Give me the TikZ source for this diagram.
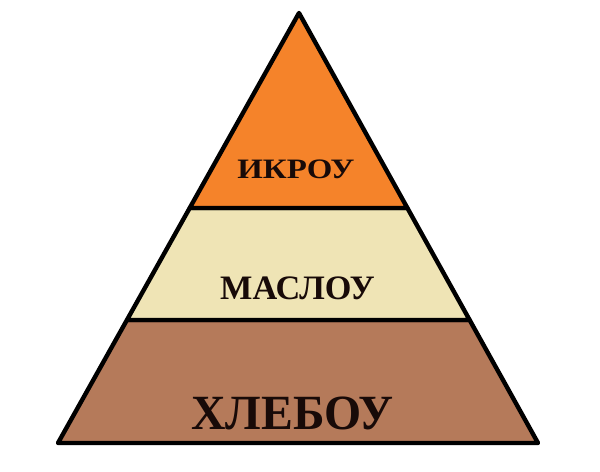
\documentclass[tikz,border=0pt]{standalone}
\usepackage{fontspec}
\setmainfont{Liberation Serif}
\usetikzlibrary{calc}
\definecolor{layerorange}{RGB}{245,131,42}
\definecolor{layerbeige}{RGB}{239,228,181}
\definecolor{layerbrown}{RGB}{181,122,90}
\definecolor{labelink}{RGB}{24,10,8}
\begin{document}
\begin{tikzpicture}[
    layer/.style={draw=black, line width=2.5pt, line join=round},
    label/.style={text=labelink, font=\bfseries, anchor=base, inner sep=0pt}
  ]
  \useasboundingbox (0,0) rectangle (12,9.44);

  \coordinate (apex) at (5.98,9.18);
  \coordinate (bl) at (1.16,0.58);
  \coordinate (br) at (10.76,0.58);
  \coordinate (l1) at ($(apex)!0.4535!(bl)$);
  \coordinate (r1) at ($(apex)!0.4535!(br)$);
  \coordinate (l2) at ($(apex)!0.714!(bl)$);
  \coordinate (r2) at ($(apex)!0.714!(br)$);

  % bands, bottom to top
  \draw[layer, fill=layerbrown] (l2) -- (r2) -- (br) -- (bl) -- cycle;
  \draw[layer, fill=layerbeige] (l1) -- (r1) -- (r2) -- (l2) -- cycle;
  \draw[layer, fill=layerorange] (apex) -- (r1) -- (l1) -- cycle;

  \node[label, font=\bfseries\fontsize{16}{18}\selectfont, xscale=1.17] (ikrou) at (5.92,5.86) {ИКРОУ};
  \node[label, font=\bfseries\fontsize{19.5}{21}\selectfont, xscale=1.0] (maslou) at (5.95,3.44) {МАСЛОУ};
  \node[label, font=\bfseries\fontsize{28}{30}\selectfont, xscale=0.97] (khlebou) at (5.85,0.84) {ХЛЕБОУ};
\end{tikzpicture}
\end{document}
